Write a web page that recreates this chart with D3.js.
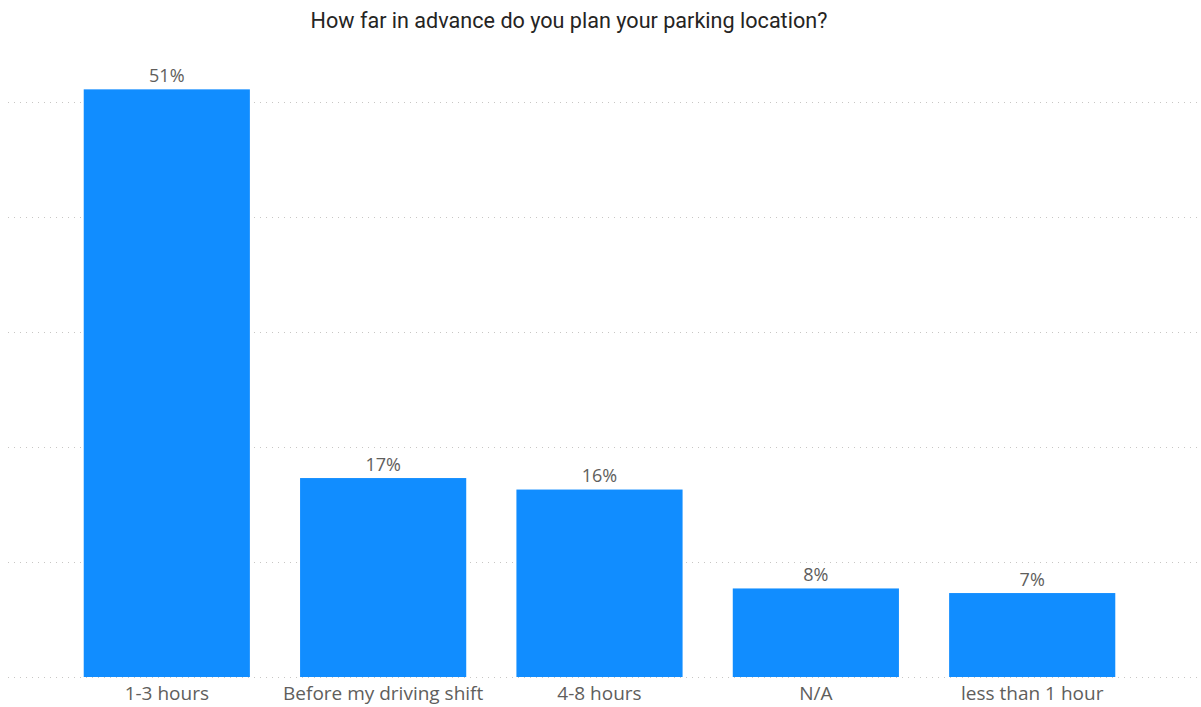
<!DOCTYPE html>
<html><head><meta charset="utf-8">
<script src="https://cdn.jsdelivr.net/npm/d3@7"></script>
<style>body{margin:0;background:#fff;}svg{display:block;}</style>
</head><body>
<script>
const title = "How far in advance do you plan your parking location?";
const categories = ["1-3 hours","Before my driving shift","4-8 hours","N/A","less than 1 hour"];
const values = [51.1, 17.3, 16.3, 7.7, 7.3];
const labels = ["51%","17%","16%","8%","7%"];
const gridTicks = [0,10,20,30,40,50];

const W = 1201, H = 707;
const svg = d3.select("body").append("svg").attr("width",W).attr("height",H);
const y = d3.scaleLinear().domain([0,50]).range([677,102]);
const x = d3.scaleBand().domain(categories).range([8,1191]).paddingInner(0.232).paddingOuter(0.35);

svg.append("text").attr("x",569).attr("y",28).attr("text-anchor","middle")
  .attr("font-family","Roboto, 'DejaVu Sans', sans-serif").attr("font-size",21.6)
  .attr("fill","#252423").text(title);

svg.append("g").selectAll("line").data(gridTicks).join("line")
  .attr("x1",8).attr("x2",1198).attr("y1",d=>Math.round(y(d))+0.5).attr("y2",d=>Math.round(y(d))+0.5)
  .attr("stroke","#C8C6C4").attr("stroke-width",1).attr("stroke-dasharray","1,5");

svg.append("g").selectAll("rect").data(categories).join("rect")
  .attr("x",d=>x(d)).attr("width",x.bandwidth())
  .attr("y",(d,i)=>y(values[i])).attr("height",(d,i)=>y(0)-y(values[i]))
  .attr("fill","#118DFF");

svg.append("g").selectAll("text").data(categories).join("text")
  .attr("x",d=>x(d)+x.bandwidth()/2).attr("y",(d,i)=>y(values[i])-7.5)
  .attr("text-anchor","middle").attr("font-family","'Open Sans', 'Noto Sans', sans-serif")
  .attr("font-size",18).attr("fill","#605E5C").text((d,i)=>labels[i]);

const xAxis = d3.axisBottom(x).tickSize(0).tickPadding(0);
const gx = svg.append("g").attr("transform","translate(0,677)").call(xAxis);
gx.select(".domain").remove();
gx.selectAll("text").attr("dy",null).attr("y",23)
  .attr("font-family","'Open Sans', 'Noto Sans', sans-serif").attr("font-size",19).attr("fill","#605E5C");
</script>
</body></html>
